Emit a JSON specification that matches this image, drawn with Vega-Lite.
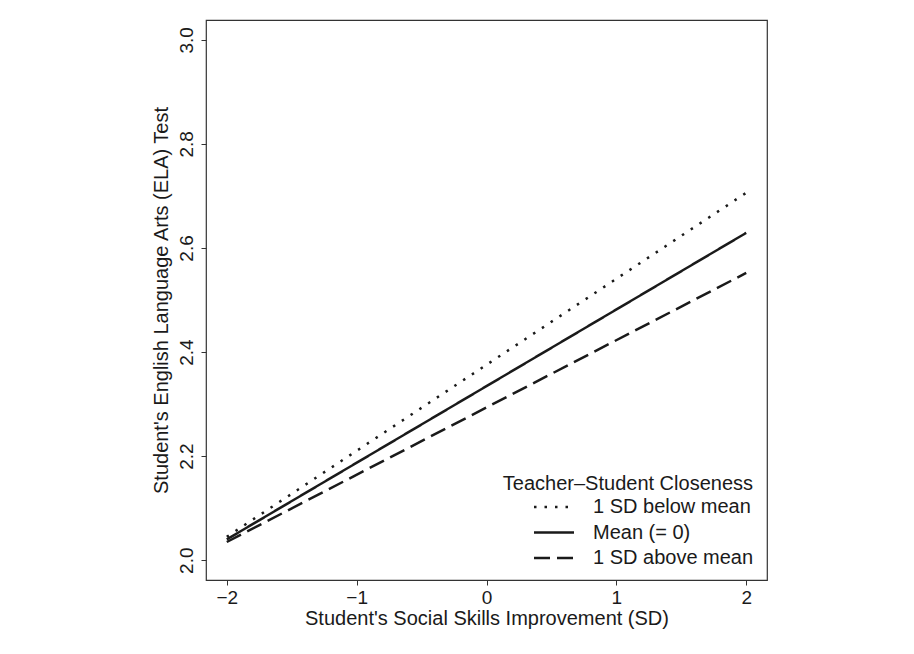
{
  "$schema": "https://vega.github.io/schema/vega-lite/v6.json",
  "width": 561,
  "height": 560,
  "autosize": "none",
  "padding": {"left": 206, "top": 20, "right": 147, "bottom": 74},
  "background": "white",
  "config": {
    "font": "Liberation Sans",
    "view": {"stroke": "#333333", "strokeWidth": 1.2},
    "axis": {
      "domain": false,
      "grid": false,
      "tickColor": "#333333",
      "tickSize": 5,
      "labelFont": "Liberation Sans",
      "titleFont": "Liberation Sans",
      "labelFontSize": 19,
      "titleFontSize": 20,
      "labelColor": "#1a1a1a",
      "titleColor": "#1a1a1a",
      "titleFontWeight": "normal",
      "titleLimit": 600
    }
  },
  "data": {
    "values": [
      {"x": -2, "y": 2.045, "group": "1 SD below mean"},
      {"x": 2, "y": 2.706, "group": "1 SD below mean"},
      {"x": -2, "y": 2.040, "group": "Mean (= 0)"},
      {"x": 2, "y": 2.629, "group": "Mean (= 0)"},
      {"x": -2, "y": 2.035, "group": "1 SD above mean"},
      {"x": 2, "y": 2.552, "group": "1 SD above mean"}
    ]
  },
  "mark": {"type": "line", "color": "#1a1a1a", "strokeWidth": 2.5},
  "encoding": {
    "x": {
      "field": "x",
      "type": "quantitative",
      "scale": {"domain": [-2.16, 2.16], "nice": false, "zero": false},
      "axis": {
        "values": [-2, -1, 0, 1, 2],
        "format": "d",
        "labelPadding": 3,
        "titlePadding": 1,
        "title": "Student's Social Skills Improvement (SD)"
      }
    },
    "y": {
      "field": "y",
      "type": "quantitative",
      "scale": {"domain": [1.962, 3.038], "nice": false, "zero": false},
      "axis": {
        "values": [2.0, 2.2, 2.4, 2.6, 2.8, 3.0],
        "format": ".1f",
        "labelAngle": 270,
        "labelAlign": "center",
        "labelBaseline": "bottom",
        "labelPadding": 5,
        "titlePadding": 6,
        "title": "Student's English Language Arts (ELA) Test"
      }
    },
    "strokeDash": {
      "field": "group",
      "type": "nominal",
      "scale": {
        "domain": ["1 SD below mean", "Mean (= 0)", "1 SD above mean"],
        "range": [[2.5, 8], [1, 0], [16, 7]]
      },
      "legend": {
        "title": "Teacher–Student Closeness",
        "orient": "none",
        "legendX": 291,
        "legendY": 454,
        "titleAnchor": "end",
        "titleLimit": 400,
        "labelLimit": 400,
        "titleFontSize": 20,
        "titleFontWeight": "normal",
        "titleColor": "#1a1a1a",
        "titleFont": "Liberation Sans",
        "titlePadding": -1,
        "labelFontSize": 20,
        "labelFont": "Liberation Sans",
        "labelColor": "#1a1a1a",
        "labelOffset": 25,
        "symbolType": "M-1.6,0H1.6",
        "symbolSize": 625,
        "symbolStrokeWidth": 2.5,
        "symbolStrokeColor": "#1a1a1a",
        "symbolFillColor": "transparent",
        "symbolOffset": 43,
        "rowPadding": 1.5
      }
    }
  }
}
